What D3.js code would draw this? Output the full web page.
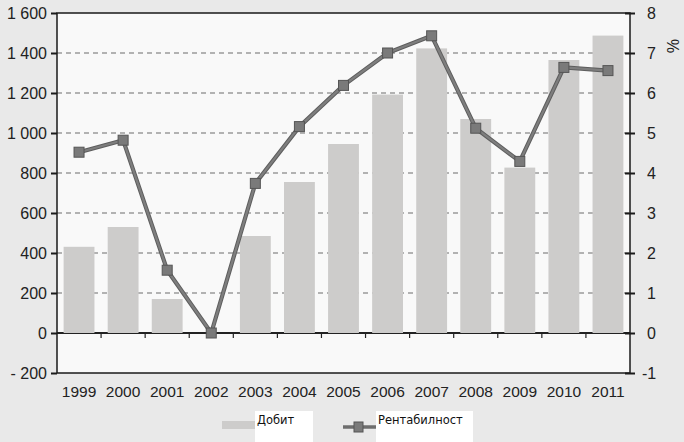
<!DOCTYPE html>
<html><head><meta charset="utf-8">
<script src="https://cdn.jsdelivr.net/npm/d3@7"></script>
<style>body{margin:0;background:#e9e9e9;}svg{display:block;}</style>
</head><body>
<script>
const years = ["1999","2000","2001","2002","2003","2004","2005","2006","2007","2008","2009","2010","2011"];
const profit = [431, 530, 170, 0, 485, 755, 945, 1192, 1423, 1070, 827, 1365, 1487];
const profitability = [4.52, 4.82, 1.57, 0.0, 3.74, 5.16, 6.19, 7.0, 7.43, 5.12, 4.29, 6.64, 6.56];
const leftTicks = [-200, 0, 200, 400, 600, 800, 1000, 1200, 1400, 1600];
const rightTicks = [-1, 0, 1, 2, 3, 4, 5, 6, 7, 8];
const legendLabels = ["Добит", "Рентабилност"];

const W = 684, H = 442;
const L = 57, R = 630, T = 13, B = 373;
const svg = d3.select("body").append("svg").attr("width", W).attr("height", H);
svg.append("rect").attr("width", W).attr("height", H).attr("fill", "#e9e9e9");

const x = d3.scaleBand().domain(years).range([L, R]).paddingInner(0.3).paddingOuter(0.15);
const xb = d3.scaleBand().domain(years).range([L, R]);
const y = d3.scaleLinear().domain([-200, 1600]).range([B, T]);
const y2 = d3.scaleLinear().domain([-1, 8]).range([B, T]);
const font = "'Liberation Sans', Arial, sans-serif";

svg.append("rect").attr("x", L).attr("y", T).attr("width", R - L).attr("height", B - T).attr("fill", "#f9f9f9");

// gridlines
svg.append("g").selectAll("line").data(leftTicks.filter(d => d > 0 && d < 1600)).join("line")
  .attr("x1", L).attr("x2", R).attr("y1", d => y(d)).attr("y2", d => y(d))
  .attr("stroke", "#9a9a9a").attr("stroke-width", 1.5).attr("stroke-dasharray", "5,4");

// zero line + category ticks
svg.append("line").attr("x1", L).attr("x2", R).attr("y1", y(0)).attr("y2", y(0))
  .attr("stroke", "#222").attr("stroke-width", 2);
svg.append("g").selectAll("line").data(years.slice(1)).join("line")
  .attr("x1", d => xb(d)).attr("x2", d => xb(d)).attr("y1", y(0)).attr("y2", y(0) + 5)
  .attr("stroke", "#222").attr("stroke-width", 1.2);

// bars
svg.append("g").selectAll("rect").data(years).join("rect")
  .attr("x", d => x(d)).attr("width", x.bandwidth())
  .attr("y", (d, i) => y(Math.max(0, profit[i])))
  .attr("height", (d, i) => Math.abs(y(profit[i]) - y(0)))
  .attr("fill", "#cdcccb");

// frame
svg.append("rect").attr("x", L).attr("y", T).attr("width", R - L).attr("height", B - T)
  .attr("fill", "none").attr("stroke", "#1a1a1a").attr("stroke-width", 1.5);

// left axis
const gl = svg.append("g").attr("transform", `translate(${L},0)`)
  .call(d3.axisLeft(y).tickValues(leftTicks).tickSize(6).tickPadding(4)
    .tickFormat(d => d < 0 ? "- " + Math.abs(d) : (d >= 1000 ? Math.floor(d / 1000) + " " + String(d % 1000).padStart(3, "0") : String(d))));
gl.select(".domain").remove();
gl.selectAll(".tick line").attr("stroke", "#1a1a1a").attr("stroke-width", 2);
gl.selectAll("text").attr("font-family", font).attr("font-size", 16).attr("fill", "#222").attr("dy", "0.35em");

// right axis
const gr = svg.append("g").attr("transform", `translate(${R},0)`)
  .call(d3.axisRight(y2).tickValues(rightTicks).tickSizeInner(5).tickSizeOuter(0).tickPadding(12)
    .tickFormat(d => d < 0 ? "-" + Math.abs(d) : String(d)));
gr.select(".domain").remove();
gr.selectAll(".tick line").attr("x1", -5).attr("stroke", "#1a1a1a").attr("stroke-width", 2);
gr.selectAll("text").attr("font-family", font).attr("font-size", 16).attr("fill", "#222").attr("dy", "0.35em")
  .attr("dx", d => d < 0 ? -5 : 0);

svg.append("text").attr("transform", "translate(667,39) rotate(90)")
  .attr("font-family", font).attr("font-size", 16).attr("fill", "#222").text("%");

// x labels
svg.append("g").selectAll("text").data(years).join("text")
  .attr("x", d => xb(d) + xb.bandwidth() / 2).attr("y", 397)
  .attr("text-anchor", "middle").attr("font-family", font).attr("font-size", 15.5).attr("fill", "#222")
  .text(d => d);

// line
const cx = d => xb(d) + xb.bandwidth() / 2;
const lineGen = d3.line().x((d, i) => cx(years[i])).y(d => y2(d));
svg.append("path").datum(profitability).attr("d", lineGen)
  .attr("fill", "none").attr("stroke", "#5e5e5e").attr("stroke-width", 4.2).attr("stroke-linejoin", "round");
svg.append("path").datum(profitability).attr("d", lineGen)
  .attr("fill", "none").attr("stroke", "#7e7e7e").attr("stroke-width", 2.2).attr("stroke-linejoin", "round");
svg.append("g").selectAll("rect").data(profitability).join("rect")
  .attr("x", (d, i) => cx(years[i]) - 5).attr("y", d => y2(d) - 5)
  .attr("width", 10).attr("height", 10)
  .attr("fill", "#7a7a7a").attr("stroke", "#555").attr("stroke-width", 1);

// legend
const lg = svg.append("g");
lg.append("rect").attr("x", 222).attr("y", 421).attr("width", 33).attr("height", 8).attr("fill", "#cdcccb");
lg.append("rect").attr("x", 255).attr("y", 411).attr("width", 58).attr("height", 31).attr("fill", "#ffffff");
lg.append("text").attr("x", 257).attr("y", 424).attr("font-family", "'DejaVu Sans', sans-serif").attr("font-size", 11.5).attr("fill", "#111").text(legendLabels[0]);
lg.append("line").attr("x1", 343).attr("x2", 377).attr("y1", 427).attr("y2", 427).attr("stroke", "#6e6e6e").attr("stroke-width", 3.5);
lg.append("rect").attr("x", 354).attr("y", 422).attr("width", 9).attr("height", 10).attr("fill", "#7a7a7a").attr("stroke", "#555").attr("stroke-width", 1);
lg.append("rect").attr("x", 376).attr("y", 411).attr("width", 97).attr("height", 31).attr("fill", "#ffffff");
lg.append("text").attr("x", 378).attr("y", 424).attr("font-family", "'DejaVu Sans', sans-serif").attr("font-size", 11.5).attr("fill", "#111").text(legendLabels[1]);
</script>
</body></html>
